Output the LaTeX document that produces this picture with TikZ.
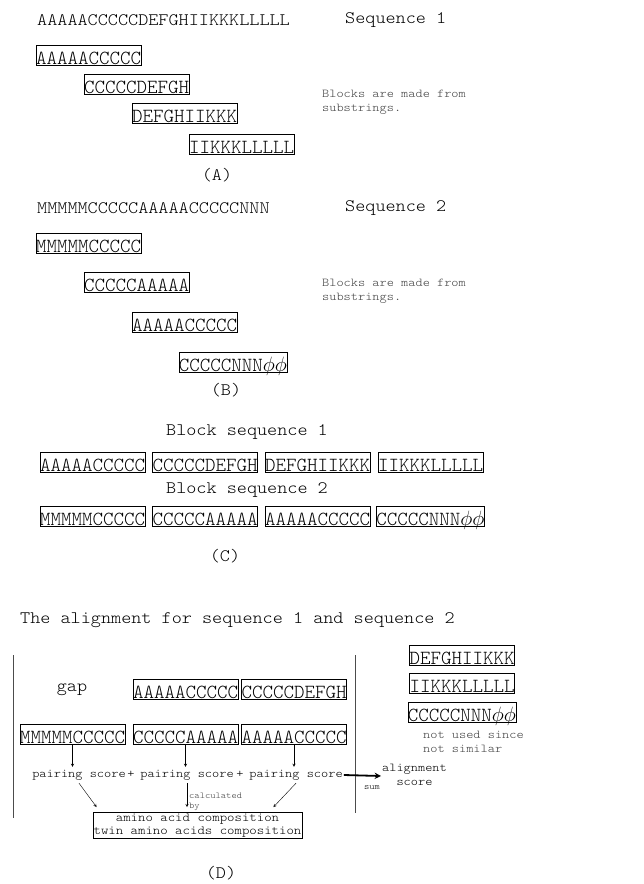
\documentclass[tikz,border=0pt]{standalone}
\usepackage{fontspec}
\setmainfont{Latin Modern Mono Light}
\usepackage{graphicx}
\usetikzlibrary{arrows.meta,positioning}

\newcommand{\bigtxt}[1]{{\fontsize{17.5}{19}\selectfont\scalebox{1.1}[1]{#1}}}
\newcommand{\midtxt}[2][c]{{\fontsize{12}{14}\selectfont\scalebox{1.14}[1]{\begin{tabular}{@{}#1@{}}#2\end{tabular}}}}
\newcommand{\tinytxt}[1]{{\fontsize{9}{10}\selectfont\scalebox{1.12}[1]{\begin{tabular}{@{}l@{}}#1\end{tabular}}}}
\newcommand{\blktxt}[1]{{\fontsize{20}{22}\selectfont #1}}
\newcommand{\ph}{$\phi$}

\begin{document}
\begin{tikzpicture}[x=1pt, y=-1pt, >=stealth,
    blk/.style={draw, line width=0.8pt, minimum width=105pt, minimum height=20pt,
      inner xsep=0pt, inner ysep=1pt, text height=18pt, text depth=0pt},
    seqtxt/.style={anchor=west, inner sep=0pt},
    note/.style={anchor=west, inner sep=0pt, text=black!75},
    pair/.style={inner sep=1pt}]
  \useasboundingbox (0,0) rectangle (643,884);

  % (A) sequence 1
  \node[seqtxt] (seqa) at (37,20) {\bigtxt{AAAAACCCCCDEFGHIIKKKLLLLL}};
  \node[seqtxt] (seqaname) at (345,20) {\bigtxt{Sequence 1}};
  \node[blk] (a1) at (88.5,55) {\blktxt{AAAAACCCCC}};
  \node[blk] (a2) at (136.5,84.5) {\blktxt{CCCCCDEFGH}};
  \node[blk] (a3) at (184.5,113.5) {\blktxt{DEFGHIIKKK}};
  \node[blk] (a4) at (241.5,144) {\blktxt{IIKKKLLLLL}};
  \node[note] (nota) at (322,102) {\midtxt[l]{Blocks are made from\\substrings.}};
  \node (capa) at (217,175) {\bigtxt{(A)}};

  % (B) sequence 2
  \node[seqtxt] (seqb) at (37,208) {\bigtxt{MMMMMCCCCCAAAAACCCCCNNN}};
  \node[seqtxt] (seqbname) at (345,208) {\bigtxt{Sequence 2}};
  \node[blk] (b1) at (88.5,243) {\blktxt{MMMMMCCCCC}};
  \node[blk] (b2) at (136.5,282.5) {\blktxt{CCCCCAAAAA}};
  \node[blk] (b3) at (184.5,322.5) {\blktxt{AAAAACCCCC}};
  \node[blk] (b4) at (233,362) {\blktxt{CCCCCNNN\ph\ph}};
  \node[note] (notb) at (322,291) {\midtxt[l]{Blocks are made from\\substrings.}};
  \node (capb) at (226,390) {\bigtxt{(B)}};

  % (C) block sequences
  \node (bsa) at (247,432) {\bigtxt{Block sequence 1}};
  \node[blk] (c1) at (92.5,462) {\blktxt{AAAAACCCCC}};
  \node[blk] (c2) at (205,462) {\blktxt{CCCCCDEFGH}};
  \node[blk] (c3) at (317.5,462) {\blktxt{DEFGHIIKKK}};
  \node[blk] (c4) at (430.5,462) {\blktxt{IIKKKLLLLL}};
  \node (bsb) at (247,490) {\bigtxt{Block sequence 2}};
  \node[blk] (e1) at (92.5,516) {\blktxt{MMMMMCCCCC}};
  \node[blk] (e2) at (205,516) {\blktxt{CCCCCAAAAA}};
  \node[blk] (e3) at (317.5,516) {\blktxt{AAAAACCCCC}};
  \node[blk] (e4) at (430.5,516) {\blktxt{CCCCCNNN\ph\ph}};
  \node (capc) at (225,556) {\bigtxt{(C)}};

  % (D) alignment
  \node[seqtxt] (title) at (20,620) {\bigtxt{The alignment for sequence 1 and sequence 2}};
  \draw[line width=0.8pt, black!70] (13,655) -- (13,818);
  \draw[line width=0.8pt, black!70] (355,655) -- (355,813);
  \node (gap) at (72,690) {\bigtxt{gap}};
  \node[blk] (d1) at (185.5,689) {\blktxt{AAAAACCCCC}};
  \node[blk] (d2) at (294,689) {\blktxt{CCCCCDEFGH}};
  \node[blk] (m1) at (72.5,734) {\blktxt{MMMMMCCCCC}};
  \node[blk] (m2) at (185.5,734) {\blktxt{CCCCCAAAAA}};
  \node[blk] (m3) at (294,734) {\blktxt{AAAAACCCCC}};
  \node[blk] (r1) at (462,655.5) {\blktxt{DEFGHIIKKK}};
  \node[blk] (r2) at (462,683) {\blktxt{IIKKKLLLLL}};
  \node[blk] (r3) at (462,712.5) {\blktxt{CCCCCNNN\ph\ph}};
  \node[note] (notd) at (423,743) {\midtxt[l]{not used since\\not similar}};

  \node[pair] (p1) at (79,775) {\midtxt{pairing score}};
  \node[pair] (plus1) at (131,775) {\midtxt{+}};
  \node[pair] (p2) at (187,775) {\midtxt{pairing score}};
  \node[pair] (plus2) at (240,775) {\midtxt{+}};
  \node[pair] (p3) at (296,775) {\midtxt{pairing score}};
  \draw[->] (m1.south) -- (m1.south |- p1.north);
  \draw[->] (m2.south) -- (m2.south |- p2.north);
  \draw[->] (m3.south) -- (m3.south |- p3.north);

  \node[pair, anchor=west] (align) at (381,776) {\midtxt{alignment\\score}};
  \draw[->, line width=1.8pt] (p3.east) -- (align.west);
  \node[inner sep=0pt] (sum) at (372,787) {\tinytxt{sum}};

  \node[draw, line width=0.8pt, minimum width=209pt, minimum height=25pt, inner sep=0pt]
    (comp) at (197.5,825.5)
    {{\fontsize{12.4}{13}\selectfont\scalebox{1.14}[1]{\begin{tabular}{@{}c@{}}amino acid composition\\twin amino acids composition\end{tabular}}}};
  \coordinate (cbtop) at ([yshift=5pt]comp.north);
  \draw[->] (p1.south) -- ([xshift=4pt,yshift=5pt]comp.north west);
  \draw[->] (p2.south) -- (p2.south |- cbtop);
  \draw[->] (p3.south) -- ([xshift=-29pt,yshift=5pt]comp.north east);
  \node[note] (calc) at (189,801) {\tinytxt{calculated\\by}};

  \node (capd) at (221,873) {\bigtxt{(D)}};
\end{tikzpicture}
\end{document}
